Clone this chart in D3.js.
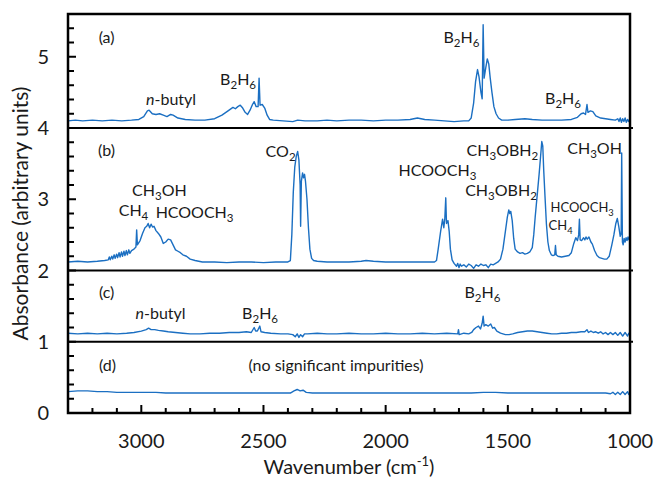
<!DOCTYPE html>
<html lang="en">
<head>
    <meta charset="UTF-8">
    <script src="https://cdnjs.cloudflare.com/ajax/libs/d3/7.8.5/d3.min.js"></script>
    <title>IR spectra</title>
    <style>
        body { margin: 0; background: white; }
        svg text { font-family: Lato, 'Open Sans', sans-serif; fill: #1a1a1a; }
    </style>
</head>
<body>
    <div id="chart"></div>
    <script>
        // Spectra, [wavenumber, absorbance]
        const spectrumA = [
            [3300,4.10],[3270,4.11],[3240,4.10],[3200,4.11],[3160,4.10],[3120,4.11],[3080,4.10],[3040,4.11],[3010,4.12],
            [2990,4.16],[2975,4.24],[2968,4.25],[2955,4.20],[2940,4.19],[2925,4.20],[2910,4.18],[2895,4.16],[2880,4.19],
            [2870,4.18],[2850,4.14],[2820,4.12],[2780,4.11],[2740,4.11],[2700,4.13],[2670,4.18],[2645,4.24],[2625,4.29],
            [2615,4.27],[2605,4.30],[2595,4.32],[2585,4.28],[2575,4.22],[2565,4.19],[2555,4.25],[2545,4.33],[2538,4.37],
            [2530,4.30],[2522,4.30],[2518,4.70],[2514,4.32],[2505,4.33],[2495,4.28],[2485,4.18],[2475,4.12],[2460,4.11],
            [2420,4.10],[2380,4.09],[2360,4.11],[2330,4.10],[2280,4.10],[2240,4.11],[2200,4.10],[2150,4.11],[2100,4.11],
            [2050,4.10],[2000,4.11],[1950,4.11],[1900,4.12],[1870,4.14],[1840,4.12],[1800,4.11],[1760,4.10],[1720,4.09],
            [1680,4.10],[1660,4.10],[1650,4.14],[1640,4.35],[1632,4.65],[1624,4.82],[1618,4.72],[1610,4.50],[1605,4.41],
            [1601,5.45],[1597,4.70],[1590,4.85],[1584,4.97],[1578,4.90],[1572,4.70],[1565,4.50],[1557,4.30],[1548,4.20],
            [1538,4.14],[1525,4.11],[1500,4.11],[1470,4.12],[1430,4.13],[1400,4.12],[1360,4.11],[1320,4.11],[1280,4.11],
            [1240,4.12],[1215,4.15],[1200,4.20],[1190,4.21],[1182,4.19],[1176,4.33],[1172,4.22],[1162,4.24],[1152,4.23],
            [1140,4.17],[1120,4.14],[1100,4.13],[1080,4.12],[1060,4.11],[1050,4.13],[1045,4.09],[1040,4.14],[1035,4.08],
            [1030,4.13],[1025,4.09],[1020,4.14],[1015,4.08],[1010,4.12],[1005,4.09],[1000,4.13]
        ];

        const spectrumB = [
            [3300,2.12],[3260,2.13],[3220,2.12],[3180,2.13],[3150,2.14],[3135,2.15],[3131,2.19],[3127,2.15],[3121,2.20],
            [3117,2.16],[3111,2.22],[3107,2.17],[3101,2.23],[3097,2.18],[3091,2.25],[3087,2.19],[3081,2.26],[3077,2.20],
            [3071,2.27],[3067,2.21],[3061,2.28],[3057,2.22],[3051,2.29],[3047,2.24],[3040,2.28],[3030,2.30],[3022,2.33],
            [3019,2.57],[3016,2.36],[3005,2.42],[2995,2.52],[2985,2.60],[2978,2.62],[2972,2.66],[2966,2.60],[2960,2.65],
            [2954,2.61],[2948,2.62],[2940,2.56],[2930,2.52],[2920,2.47],[2910,2.38],[2900,2.40],[2890,2.44],[2880,2.43],
            [2870,2.36],[2860,2.29],[2850,2.27],[2840,2.25],[2830,2.22],[2815,2.20],[2800,2.16],[2780,2.14],[2750,2.12],
            [2700,2.12],[2650,2.11],[2600,2.12],[2550,2.12],[2500,2.11],[2450,2.12],[2400,2.12],[2390,2.14],[2384,2.50],
            [2378,3.10],[2372,3.45],[2366,3.60],[2360,3.67],[2355,3.55],[2350,3.20],[2348,2.62],[2345,3.25],[2340,3.37],
            [2336,3.30],[2332,3.35],[2328,3.25],[2322,3.00],[2316,2.60],[2310,2.30],[2303,2.17],[2295,2.14],[2280,2.13],
            [2240,2.12],[2200,2.12],[2150,2.12],[2100,2.13],[2080,2.14],[2050,2.13],[2000,2.12],[1950,2.12],[1900,2.12],
            [1850,2.12],[1800,2.12],[1792,2.14],[1785,2.30],[1775,2.55],[1767,2.72],[1762,2.60],[1758,2.72],[1754,3.02],
            [1751,2.66],[1745,2.70],[1740,2.55],[1735,2.30],[1728,2.15],[1720,2.10],[1710,2.06],[1705,2.10],[1700,2.04],
            [1695,2.09],[1690,2.06],[1680,2.08],[1670,2.05],[1660,2.09],[1650,2.07],[1640,2.03],[1630,2.08],[1620,2.06],
            [1610,2.09],[1600,2.07],[1590,2.08],[1580,2.04],[1570,2.09],[1560,2.08],[1550,2.10],[1540,2.12],[1530,2.16],
            [1520,2.30],[1510,2.55],[1502,2.75],[1496,2.85],[1492,2.80],[1488,2.83],[1482,2.70],[1476,2.45],[1470,2.30],
            [1460,2.26],[1450,2.24],[1440,2.25],[1430,2.23],[1420,2.24],[1410,2.26],[1400,2.32],[1394,2.50],[1388,2.75],
            [1380,3.05],[1372,3.35],[1366,3.60],[1361,3.81],[1357,3.75],[1353,3.40],[1348,3.05],[1342,2.65],[1336,2.40],
            [1330,2.28],[1322,2.22],[1315,2.21],[1308,2.22],[1305,2.35],[1302,2.22],[1295,2.20],[1280,2.19],[1265,2.20],
            [1250,2.21],[1240,2.25],[1230,2.38],[1222,2.46],[1215,2.42],[1210,2.50],[1207,2.72],[1204,2.43],[1198,2.42],
            [1190,2.46],[1185,2.43],[1180,2.47],[1175,2.44],[1168,2.47],[1160,2.40],[1154,2.37],[1145,2.28],[1135,2.21],
            [1125,2.18],[1115,2.17],[1105,2.16],[1095,2.16],[1085,2.20],[1075,2.35],[1066,2.50],[1058,2.66],[1052,2.73],
            [1046,2.62],[1040,2.48],[1036,2.52],[1034,3.65],[1031,2.40],[1028,2.36],[1024,2.45],[1020,2.40],[1016,2.46],
            [1012,2.42],[1008,2.47],[1004,2.43],[1000,2.46]
        ];

        const spectrumC = [
            [3300,1.12],[3260,1.11],[3220,1.12],[3180,1.11],[3140,1.12],[3100,1.11],[3060,1.12],[3030,1.13],[3000,1.15],
            [2980,1.17],[2970,1.19],[2960,1.17],[2945,1.17],[2930,1.16],[2910,1.15],[2890,1.14],[2860,1.13],[2830,1.12],
            [2800,1.11],[2760,1.11],[2720,1.12],[2680,1.12],[2640,1.13],[2600,1.13],[2570,1.14],[2550,1.13],[2538,1.20],
            [2532,1.15],[2525,1.15],[2515,1.22],[2510,1.14],[2495,1.13],[2470,1.12],[2430,1.11],[2400,1.11],[2380,1.10],
            [2370,1.07],[2362,1.11],[2355,1.06],[2348,1.10],[2340,1.07],[2332,1.11],[2320,1.11],[2280,1.12],[2240,1.11],
            [2200,1.11],[2150,1.12],[2100,1.11],[2050,1.11],[2000,1.12],[1950,1.11],[1900,1.11],[1850,1.12],[1800,1.11],
            [1750,1.12],[1705,1.11],[1702,1.17],[1699,1.10],[1680,1.12],[1660,1.11],[1648,1.13],[1640,1.17],[1630,1.20],
            [1620,1.22],[1612,1.18],[1605,1.26],[1601,1.36],[1597,1.22],[1590,1.24],[1580,1.22],[1570,1.25],[1562,1.19],
            [1555,1.20],[1545,1.15],[1530,1.12],[1510,1.10],[1495,1.10],[1480,1.11],[1460,1.13],[1440,1.14],[1420,1.15],
            [1400,1.15],[1380,1.14],[1360,1.13],[1340,1.12],[1320,1.11],[1300,1.11],[1280,1.12],[1260,1.12],[1240,1.13],
            [1220,1.13],[1200,1.14],[1185,1.14],[1176,1.17],[1170,1.13],[1160,1.15],[1150,1.13],[1140,1.14],[1130,1.12],
            [1120,1.14],[1110,1.11],[1100,1.13],[1090,1.10],[1080,1.13],[1070,1.10],[1060,1.13],[1050,1.09],[1040,1.13],
            [1030,1.08],[1020,1.13],[1010,1.08],[1005,1.12],[1000,1.09]
        ];

        const spectrumD = [
            [3300,0.30],[3260,0.31],[3220,0.31],[3180,0.30],[3140,0.30],[3100,0.29],[3060,0.29],[3020,0.29],[2980,0.29],
            [2940,0.29],[2900,0.28],[2860,0.28],[2820,0.28],[2780,0.28],[2740,0.28],[2700,0.28],[2660,0.28],[2620,0.28],
            [2580,0.28],[2540,0.28],[2500,0.28],[2460,0.28],[2420,0.28],[2390,0.28],[2375,0.31],[2362,0.33],[2350,0.31],
            [2338,0.32],[2325,0.29],[2300,0.28],[2250,0.28],[2200,0.28],[2150,0.28],[2100,0.28],[2050,0.28],[2000,0.28],
            [1950,0.28],[1900,0.28],[1850,0.28],[1800,0.28],[1750,0.28],[1700,0.28],[1650,0.28],[1600,0.29],[1550,0.29],
            [1500,0.28],[1450,0.28],[1400,0.28],[1350,0.28],[1300,0.28],[1250,0.28],[1200,0.28],[1150,0.28],[1100,0.28],
            [1080,0.27],[1070,0.29],[1060,0.26],[1050,0.29],[1040,0.26],[1030,0.30],[1020,0.26],[1010,0.30],[1005,0.26],
            [1000,0.29]
        ];

        const panelBreaks = [1, 2, 4];
        const xTicks = [3000, 2500, 2000, 1500, 1000];
        const yTicks = [0, 1, 2, 3, 4, 5];

        // annotations: text ("_3" = subscript, *x* = italic), anchor [wavenumber, absorbance], small font?
        const labels = [
            ["(a)", 3142, 5.28, false], ["*n*-butyl", 2878, 4.41, false], ["B_2H_6", 2604, 4.68, false],
            ["B_2H_6", 1690, 5.28, false], ["B_2H_6", 1274, 4.42, false],
            ["(b)", 3142, 3.69, false], ["CO_2", 2430, 3.68, false], ["CH_3OH", 2926, 3.12, false],
            ["CH_4", 3032, 2.84, false], ["HCOOCH_3", 2782, 2.82, false], ["HCOOCH_3", 1788, 3.41, false],
            ["CH_3OBH_2", 1522, 3.69, false], ["CH_3OBH_2", 1528, 3.12, false], ["CH_3OH", 1145, 3.71, false],
            ["HCOOCH_3", 1196, 2.88, true], ["CH_4", 1284, 2.63, true],
            ["(c)", 3142, 1.69, false], ["*n*-butyl", 2921, 1.40, false], ["B_2H_6", 2514, 1.40, false],
            ["B_2H_6", 1604, 1.69, false],
            ["(d)", 3138, 0.67, false], ["(no significant impurities)", 2203, 0.67, false]
        ];

        const width = 654, height = 479;
        const margin = { left: 68, right: 24, top: 14, bottom: 66 };

        const svg = d3.select("#chart").append("svg")
            .attr("width", width)
            .attr("height", height);

        const x = d3.scaleLinear().domain([3300, 1000]).range([margin.left, width - margin.right]);
        const y = d3.scaleLinear().domain([0, 5.6]).range([height - margin.bottom, margin.top]);

        const color = "#1b6fc2";

        // spectra
        const line = d3.line().x(d => x(d[0])).y(d => y(d[1]));
        [spectrumA, spectrumB, spectrumC, spectrumD].forEach(s => {
            svg.append("path")
                .datum(s)
                .attr("d", line)
                .attr("fill", "none")
                .attr("stroke", color)
                .attr("stroke-width", 1.4)
                .attr("stroke-linejoin", "round");
        });

        // minor/major ticks, pointing inward
        const xMinor = d3.range(3200, 999, -100);
        svg.append("g").selectAll("line").data(xMinor).join("line")
            .attr("x1", d => x(d)).attr("x2", d => x(d))
            .attr("y1", y(0)).attr("y2", d => y(0) - (d % 500 === 0 ? 8 : 5))
            .attr("stroke", "black").attr("stroke-width", 2);

        const yMinor = d3.range(0.2, 5.6, 0.2).map(v => Math.round(v * 10) / 10);
        svg.append("g").selectAll("line").data(yMinor).join("line")
            .attr("x1", x(3300)).attr("x2", d => x(3300) + (Math.abs(d - Math.round(d)) < 0.01 ? 8 : 6))
            .attr("y1", d => y(d)).attr("y2", d => y(d))
            .attr("stroke", "black").attr("stroke-width", 2);

        // panel separators
        svg.append("g").selectAll("line").data(panelBreaks).join("line")
            .attr("x1", x(3300)).attr("x2", x(1000) + 3)
            .attr("y1", d => y(d)).attr("y2", d => y(d))
            .attr("stroke", "black").attr("stroke-width", 2);

        // frame
        svg.append("rect")
            .attr("x", x(3300)).attr("y", y(5.6))
            .attr("width", x(1000) - x(3300)).attr("height", y(0) - y(5.6))
            .attr("fill", "none").attr("stroke", "black").attr("stroke-width", 2.5);

        // tick labels
        svg.append("g").selectAll("text").data(xTicks).join("text")
            .attr("x", d => x(d)).attr("y", y(0) + 35)
            .attr("text-anchor", "middle").attr("font-size", 20)
            .text(d => d);

        svg.append("g").selectAll("text").data(yTicks).join("text")
            .attr("x", x(3300) - 19).attr("y", d => y(d) + 7)
            .attr("text-anchor", "end").attr("font-size", 20)
            .text(d => d);

        // axis titles
        svg.append("text")
            .attr("x", (x(3300) + x(1000)) / 2).attr("y", height - 5)
            .attr("text-anchor", "middle").attr("font-size", 20)
            .text("Wavenumber (cm")
            .call(t => t.append("tspan").attr("font-size", 13).attr("dy", -8).text("-1"))
            .call(t => t.append("tspan").attr("dy", 8).text(")"));

        svg.append("text")
            .attr("transform", `translate(28, ${(y(0) + y(5.6)) / 2}) rotate(-90)`)
            .attr("text-anchor", "middle").attr("font-size", 21)
            .text("Absorbance (arbitrary units)");

        // annotations with subscripts / italics
        labels.forEach(([txt, wn, val, small]) => {
            const fs = small ? 13 : 16;
            const t = svg.append("text")
                .attr("x", x(wn)).attr("y", y(val) + fs * 0.36)
                .attr("text-anchor", "middle").attr("font-size", fs);
            const parts = txt.split(/(_\d|\*[^*]+\*)/).filter(p => p !== "");
            let shifted = false;
            parts.forEach(p => {
                if (p.startsWith("_")) {
                    t.append("tspan").attr("font-size", fs * 0.72).attr("dy", fs * 0.25).text(p.slice(1));
                    shifted = true;
                } else if (p.startsWith("*")) {
                    t.append("tspan").attr("font-style", "italic").attr("dy", shifted ? -fs * 0.25 : 0).text(p.slice(1, -1));
                    shifted = false;
                } else {
                    t.append("tspan").attr("dy", shifted ? -fs * 0.25 : 0).text(p);
                    shifted = false;
                }
            });
        });
    </script>
</body>
</html>
